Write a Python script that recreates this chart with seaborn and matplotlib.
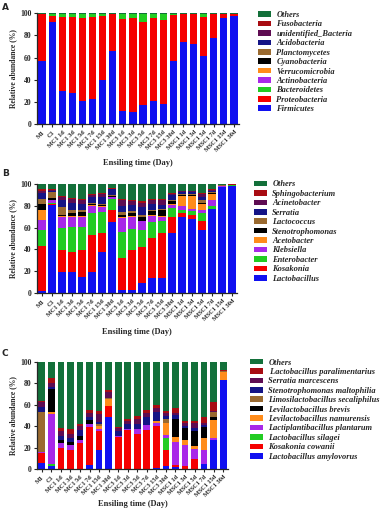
import matplotlib
matplotlib.use("Agg")
import matplotlib.pyplot as plt
import seaborn as sns
import numpy as np
from matplotlib.patches import Patch

sns.set_style("ticks")
plt.rcParams["font.family"] = ["Liberation Serif", "DejaVu Serif"]

samples = ["M1", "C1", "MC1 1d", "MC1 3d", "MC1 5d", "MC1 7d", "MC1 15d", "MC1 30d",
           "MC3 1d", "MC3 3d", "MC3 5d", "MC3 7d", "MC3 15d", "MC3 30d",
           "MSC1 1d", "MSC1 3d", "MSC1 5d", "MSC1 7d", "MSC1 15d", "MSC1 30d"]

# ---------------- Panel A : phylum ----------------
phyla = ["Firmicutes", "Proteobacteria", "Bacteroidetes", "Actinobacteria", "Verrucomicrobia",
         "Cyanobacteria", "Planctomycetes", "Acidobacteria", "unidentified_Bacteria",
         "Fusobacteria", "Others"]
firmicutes = [57, 92, 30, 28, 21, 23, 40, 66, 12, 11, 17, 21, 18, 57, 74, 72, 61, 78, 95.5, 98]
proteobacteria = [42, 5.5, 66.5, 68.5, 75, 74, 57.5, 33.5, 83, 85, 75.5, 74.5, 75.5, 41.5, 25, 27, 36, 21, 3.5, 1.3]
bacteroidetes = [0.5, 1.8, 3.0, 3.0, 3.5, 2.5, 2.0, 0.2, 4.5, 3.5, 7.0, 4.0, 6.0, 1.0, 0.5, 0.5, 2.5, 0.5, 0.5, 0.3]
actinobacteria = [0.05, 0.05, 0.05, 0.05, 0.05, 0.05, 0.05, 0.02, 0.05, 0.05, 0.05, 0.05, 0.05, 0.02, 0.02, 0.02, 0.05, 0.02, 0.02, 0.02]
verrucomicrobia = [0.03, 0.02, 0.03, 0.03, 0.03, 0.03, 0.03, 0.02, 0.03, 0.03, 0.03, 0.03, 0.03, 0.02, 0.02, 0.02, 0.03, 0.02, 0.02, 0.02]
cyanobacteria = [0.03, 0.02, 0.03, 0.03, 0.03, 0.03, 0.03, 0.02, 0.03, 0.03, 0.03, 0.03, 0.03, 0.02, 0.02, 0.02, 0.03, 0.02, 0.02, 0.02]
planctomycetes = [0.02, 0.02, 0.02, 0.02, 0.02, 0.02, 0.02, 0.01, 0.02, 0.02, 0.02, 0.02, 0.02, 0.01, 0.01, 0.01, 0.02, 0.01, 0.01, 0.01]
acidobacteria = [0.02, 0.02, 0.02, 0.02, 0.02, 0.02, 0.02, 0.01, 0.02, 0.02, 0.02, 0.02, 0.02, 0.01, 0.01, 0.01, 0.02, 0.01, 0.01, 0.01]
unidentified_bacteria = [0.02, 0.02, 0.02, 0.02, 0.02, 0.02, 0.02, 0.01, 0.02, 0.02, 0.02, 0.02, 0.02, 0.01, 0.01, 0.01, 0.02, 0.01, 0.01, 0.01]
fusobacteria = [0.03, 0.05, 0.03, 0.03, 0.03, 0.03, 0.03, 0.02, 0.03, 0.03, 0.03, 0.03, 0.03, 0.02, 0.02, 0.02, 0.03, 0.02, 0.02, 0.02]
others_a = [0.3, 0.5, 0.3, 0.3, 0.3, 0.3, 0.3, 0.2, 0.3, 0.3, 0.3, 0.3, 0.3, 0.4, 0.4, 0.4, 0.3, 0.4, 0.4, 0.3]
values_a = [firmicutes, proteobacteria, bacteroidetes, actinobacteria, verrucomicrobia,
            cyanobacteria, planctomycetes, acidobacteria, unidentified_bacteria, fusobacteria, others_a]

# ---------------- Panel B : genus ----------------
genera = ["Lactobacillus", "Kosakonia", "Enterobacter", "Klebsiella", "Acetobacter",
          "Stenotrophomonas", "Lactococcus", "Serratia", "Acinetobacter",
          "Sphingobacterium", "Others"]
lactobacillus = [2, 81, 19, 19, 15, 19, 38, 65, 3, 3, 9, 14, 14, 55, 70, 68, 58, 77, 97.5, 98.5]
kosakonia = [41, 1, 20, 19, 24, 34, 17, 11, 29, 36, 33, 36, 41, 15, 3, 4, 8, 0.5, 0.1, 0.1]
enterobacter = [15, 1, 21, 23, 22, 20, 19, 10, 24, 20, 16, 15, 11, 8, 3, 3, 7, 2.5, 0.1, 0.1]
klebsiella = [9, 2, 10, 9, 9, 7, 5, 2, 13, 11, 8, 6, 4, 3, 4, 2, 3, 5, 0.1, 0.1]
acetobacter = [9, 0.5, 0.5, 0.5, 1, 0.5, 0.5, 0.5, 0.5, 0.5, 0.5, 0.5, 0.5, 0.5, 9, 12, 6, 6, 0.1, 0.1]
stenotrophomonas = [6, 2, 1.5, 2.5, 3, 1.5, 1.5, 0.5, 2.5, 2.5, 3.5, 3.5, 5.5, 2.5, 0.5, 0.5, 1, 1, 0.1, 0.1]
lactococcus = [4, 5.5, 7, 3, 2, 1, 1, 0.5, 2, 2, 2, 1, 1, 1, 1.5, 1.5, 2, 0.5, 1, 0.1]
serratia = [6, 1, 6, 7, 6, 5, 6, 5.5, 6, 6, 7, 6, 4, 5, 2, 2, 3, 1.5, 0.2, 0.1]
acinetobacter = [1.5, 0.5, 3, 3, 3, 2, 3, 0.5, 5, 3, 4, 3, 4, 1, 0.5, 0.5, 3, 0.5, 0.2, 0.3]
sphingobacterium = [1.5, 0.5, 1, 1, 1, 1, 1, 0.5, 1, 1, 1, 1, 1, 1, 0.5, 0.5, 1, 0.5, 0.1, 0.2]
others_b = [5, 5, 11, 13, 14, 9, 8, 4, 14, 15, 16, 14, 14, 8, 6, 6, 8, 5, 0.5, 0.3]
values_b = [lactobacillus, kosakonia, enterobacter, klebsiella, acetobacter, stenotrophomonas,
            lactococcus, serratia, acinetobacter, sphingobacterium, others_b]

# ---------------- Panel C : species ----------------
species = ["Lactobacillus amylovorus", "Kosakonia cowanii", "Lactobacillus silagei",
           "Lactiplantibacillus plantarum", "Levilactobacillus namurensis",
           "Levilactobacillus brevis", "Limosilactobacillus secaliphilus",
           "Stenotrophomonas maltophilia", "Serratia marcescens",
           " Lactobacillus paralimentarius", "Others"]
amylovorus = [6, 3, 0, 0, 0, 4, 18, 48, 0, 0, 0, 0, 1, 3, 2, 0, 0, 5, 27, 83]
cowanii = [9, 0, 20, 18, 24, 35, 17, 11, 30, 36, 33, 36, 39, 15, 2, 3, 9, 0, 0, 0]
silagei = [0, 2, 0, 0, 0, 0, 0, 0, 0, 0, 0, 0, 0, 11, 0, 0, 0, 0, 0, 0]
plantarum = [1, 46, 4, 4, 3, 3, 2, 0, 1, 1, 4, 5, 3, 3, 21, 19, 10, 13, 2, 0]
namurensis = [0, 2, 0, 0, 0, 0, 3, 6, 0, 0, 0, 0, 2, 11, 5, 5, 2, 11, 17, 7]
brevis = [0, 22, 3, 3, 4, 4, 0, 0, 0, 0, 0, 0, 0, 0, 17, 11, 14, 10, 2.5, 0]
secaliphilus = [37, 0, 0, 0, 0, 0, 2, 1, 0, 0, 0, 0, 0, 4, 0, 0, 0, 0, 5, 1]
maltophilia = [5, 1, 4, 4, 5, 2, 2, 0, 4, 5, 5, 7, 8, 2, 3, 2, 3, 2, 0, 0]
marcescens = [4, 4, 4, 4, 4, 4, 7, 6, 3, 3, 5, 4, 4, 3, 2, 3, 5, 2, 0.5, 0.5]
paralimentarius = [1, 5, 3, 4, 2, 3, 3, 2, 1, 2, 2, 3, 3, 2, 5, 2, 2, 5, 8, 0.5]
others_c = [37, 15, 62, 63, 58, 45, 46, 26, 61, 53, 51, 45, 40, 46, 43, 55, 55, 52, 38, 8]
values_c = [amylovorus, cowanii, silagei, plantarum, namurensis, brevis, secaliphilus,
            maltophilia, marcescens, paralimentarius, others_c]

layer_colors = ["#1010f0", "#f50000", "#22cc22", "#a828e8", "#ff8c1a", "#000000",
                "#9a6a30", "#141486", "#5e0c52", "#a80c12", "#13703a"]

fig = plt.figure(figsize=(3.8, 5.11), dpi=100)
W, H = 380, 511

def ax_at(l, t, r, b):
    return fig.add_axes([l / W, 1 - b / H, (r - l) / W, (b - t) / H])

# letter y-centre, xlabel y-centre, legend top
panels = [
    ("A", ax_at(37, 13.3, 239, 124), phyla, values_a, (258, 11), 0.72, 7, 163),
    ("B", ax_at(37, 184, 237, 293), genera, values_b, (254, 180.5), 0.72, 174, 331.5),
    ("C", ax_at(37, 361.7, 228, 469), species, values_c, (250, 358.5), 0.70, 353, 504),
]

serif_bold = dict(family=["Liberation Serif", "DejaVu Serif"], weight="bold")

for letter, ax, names, vals, legpos, bw, let_y, xl_y in panels:
    arr = np.array(vals, dtype=float)
    cum = np.cumsum(arr, axis=0)
    for i in range(len(names) - 1, -1, -1):
        sns.barplot(x=samples, y=cum[i], color=layer_colors[i], width=bw,
                    saturation=1, errorbar=None, linewidth=0, ax=ax)
    ax.set_ylim(0, 100)
    ax.set_xlim(-0.5, len(samples) - 0.5)
    ax.set_yticks([0, 20, 40, 60, 80, 100])
    ax.set_yticklabels(["0", "20", "40", "60", "80", "100"], fontsize=5.5, **serif_bold)
    ax.set_xticks(range(len(samples)))
    ax.set_xticklabels(samples, rotation=45, ha="right", rotation_mode="anchor",
                       fontsize=4.5, **serif_bold)
    ax.tick_params(axis="both", length=2.5, width=0.8, pad=1.5)
    for s in ["left", "bottom"]:
        ax.spines[s].set_linewidth(0.9)
    sns.despine(ax=ax)
    ax.set_ylabel("Relative abundance (%)", fontsize=5.5, labelpad=2, **serif_bold)
    ax.set_xlabel("")
    pos = ax.get_position()
    fig.text(pos.x0 + pos.width / 2, 1 - xl_y / H, "Ensiling time (Day)", fontsize=6,
             ha="center", va="center", **serif_bold)
    fig.text(2 / W, 1 - let_y / H, letter, fontsize=6.5, weight="bold",
             family="DejaVu Sans", ha="left", va="center")
    handles = [Patch(facecolor=layer_colors[i], edgecolor="none", label=names[i])
               for i in range(len(names) - 1, -1, -1)]
    fig.legend(handles=handles, loc="upper left",
               bbox_to_anchor=(legpos[0] / W, 1 - legpos[1] / H),
               frameon=False, handlelength=1.5, handleheight=0.65, handletextpad=0.7,
               labelspacing=0.17, borderaxespad=0, borderpad=0,
               prop=dict(family=["Liberation Serif", "DejaVu Serif"], style="italic",
                         weight="bold", size=6))

fig.savefig("out.png", dpi=100, facecolor="white")
